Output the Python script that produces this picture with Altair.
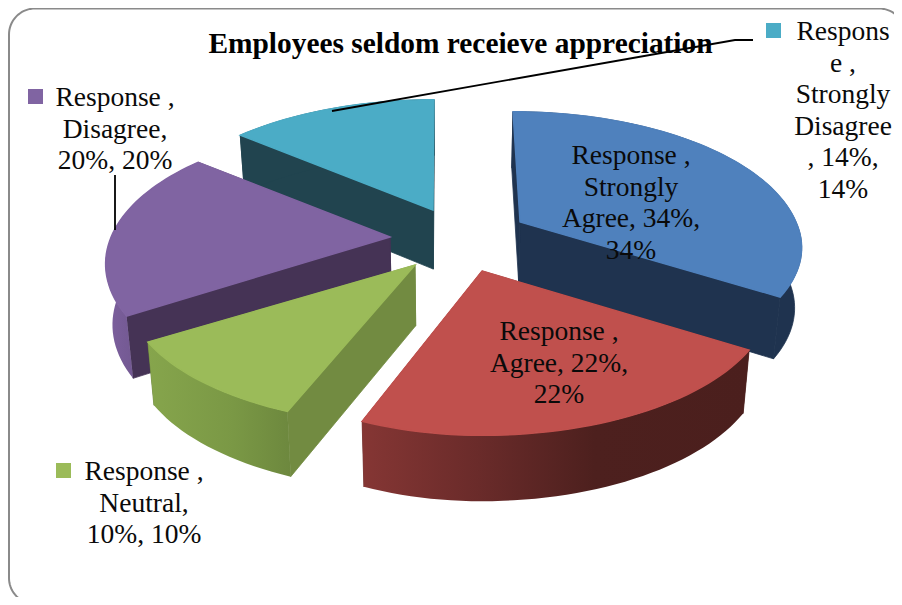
import math
import altair as alt
import pandas as pd

# ---- data ----
categories = ["Strongly Agree", "Agree", "Neutral", "Disagree", "Strongly Disagree"]
shares = [34, 22, 10, 20, 14]
colors = ["#4f81bd", "#c0504d", "#9bbb59", "#8064a2", "#4bacc6"]
title_text = "Employees seldom receieve appreciation"
label_lines = [
    ["Response ,", "Strongly", "Agree, 34%,", "34%"],
    ["Response ,", "Agree, 22%,", "22%"],
    ["Response ,", "Neutral,", "10%, 10%"],
    ["Response ,", "Disagree,", "20%, 20%"],
    ["Respons", "e ,", "Strongly", "Disagree", ", 14%,", "14%"],
]

# ---- layout of the exploded perspective pie (page pixels) ----
W, H = 886, 589
apex = [(520, 222), (482, 271), (415, 265), (390, 237), (433, 210)]
# per-slice rim adjustment: x shift, left-side x scale, right-side x scale, near-side y scale
rim = [(-7, 1, 1, 0.95), (0, 0.94, 1, 1), (0, 1, 1, 0.975), (-3, 0.975, 1, 1), (1, 1, 1, 1)]
label_xy = [(631, 156), (559, 332), (144, 472), (115, 98), (843, 32)]
line_step = 31.5
keys = {2: (56, 463), 3: (28, 89), 4: (766, 23)}
RX, RY, K = 283, 132, 0.197
FONT = "Liberation Serif"

def top_pt(i, deg):
    t = math.radians(deg)
    u, v = math.sin(t), math.cos(t)
    p = 1 + K * v
    shift, left, right, near = rim[i]
    dx = RX * u / p
    dy = -RY * v / p
    return (apex[i][0] + shift + dx * (left if dx < 0 else right), apex[i][1] + dy * (near if dy > 0 else 1))

def low_pt(pt):
    return (pt[0] + (450 - pt[0]) * 0.02, pt[1] + 60 + (pt[1] - 240) * 0.03)

def poly(points):
    pts = [list(p) for p in points] + [list(points[0])]
    return {"type": "Feature", "properties": {}, "geometry": {"type": "Polygon", "coordinates": [pts]}}

def shape(feature, **mark):
    return alt.Chart(alt.Data(values=[feature])).mark_geoshape(**mark).project(
        type="identity", scale=1, translate=[-8, -8]
    )

def wall(feature, fill):
    if isinstance(fill, str):
        return shape(feature, fill=fill, stroke=fill, strokeWidth=0.8)
    return shape(feature, fill=fill, strokeWidth=0)

def grad(*stops):
    return alt.Gradient(
        gradient="linear", x1=0, x2=1, y1=0, y2=0,
        stops=[alt.GradientStop(offset=o, color=c) for o, c in stops],
    )

outer_fill = [
    "#1f334f",
    grad((0, "#853634"), (0.3, "#6a2b2a"), (0.6, "#4d201e"), (1, "#4b1f1d")),
    grad((0, "#86a54c"), (0.6, "#7a9845"), (1, "#6d883e")),
    grad((0, "#7d609e"), (0.5, "#6b5389"), (1, "#5f4a7c")),
    "#21444f",
]
start_wall = ["#1f334f", "#4b1f1d", "#728b41", "#453355", "#21444f"]
end_wall = ["#1f334f", "#6e2d2b", "#6d883e", "#453355", "#21444f"]

# cumulative start angle of every slice, clockwise from the top
starts = []
acc = 0
for s in shares:
    starts.append(acc)
    acc += s * 3.6

layers = []

# frame
r = 26
fx0, fy0, fx1, fy1 = 9, 8.5, 905, 604
frame = []
for cx, cy, a0 in [(fx0 + r, fy0 + r, 180), (fx1 - r, fy0 + r, 270), (fx1 - r, fy1 - r, 0), (fx0 + r, fy1 - r, 90)]:
    for k in range(0, 19):
        a = math.radians(a0 + k * 5)
        frame.append([cx + r * math.cos(a), cy + r * math.sin(a)])
frame.append(frame[0])
layers.append(
    alt.Chart(alt.Data(values=[{"type": "Feature", "properties": {}, "geometry": {"type": "LineString", "coordinates": frame}}]))
    .mark_geoshape(filled=False, stroke="#8a8a8a", strokeWidth=2)
    .project(type="identity", scale=1, translate=[-8, -8])
)

# slices, back to front
for i in [4, 3, 0, 2, 1]:
    a0, a1 = starts[i], starts[i] + shares[i] * 3.6
    n = max(8, int(shares[i] * 2))
    arc = [top_pt(i, a0 + (a1 - a0) * k / n) for k in range(n + 1)]
    low = [low_pt(p) for p in arc]
    ap = apex[i]
    ap_low = low_pt(ap)
    layers.append(wall(poly([ap, arc[-1], low[-1], ap_low]), end_wall[i]))
    layers.append(wall(poly([ap, arc[0], low[0], ap_low]), start_wall[i]))
    layers.append(wall(poly(arc + low[::-1]), outer_fill[i]))
    layers.append(shape(poly([ap] + arc), fill=colors[i], stroke=colors[i], strokeWidth=1.4))

# title
title_df = pd.DataFrame({"x": [460.5 - 8], "y": [44 - 8], "t": [title_text]})
layers.append(
    alt.Chart(title_df).mark_text(font=FONT, fontSize=29.4, fontWeight="bold", color="#000000", baseline="middle", align="center")
    .encode(x=alt.X("x:Q", scale=None), y=alt.Y("y:Q", scale=None), text="t:N")
)

# leader lines
leaders = [
    [(332, 111), (735, 40), (753, 40)],
    [(115, 175), (115, 230)],
]
for pts in leaders:
    df = pd.DataFrame({"x": [p[0] - 8 for p in pts], "y": [p[1] - 8 for p in pts], "o": list(range(len(pts)))})
    layers.append(
        alt.Chart(df).mark_line(color="#000000", strokeWidth=1.8)
        .encode(x=alt.X("x:Q", scale=None), y=alt.Y("y:Q", scale=None), order="o:O")
    )

# legend keys
for i, (kx, ky) in keys.items():
    layers.append(shape(poly([(kx, ky), (kx + 15, ky), (kx + 15, ky + 15), (kx, ky + 15)]), fill=colors[i], strokeWidth=0))

# data labels
rows = []
for i, lines in enumerate(label_lines):
    lx, ly = label_xy[i]
    for j, t in enumerate(lines):
        rows.append({"x": lx - 8, "y": ly + j * line_step - 8, "t": t})
layers.append(
    alt.Chart(pd.DataFrame(rows)).mark_text(font=FONT, fontSize=27.5, color="#0a0a0a", baseline="middle", align="center")
    .encode(x=alt.X("x:Q", scale=None), y=alt.Y("y:Q", scale=None), text="t:N")
)

chart = (
    alt.layer(*layers)
    .properties(width=W, height=H, padding=0, autosize=alt.AutoSizeParams(type="none"))
    .configure_view(stroke=None)
)
chart.save("out.html", embed_options={"renderer": "svg", "actions": False})
